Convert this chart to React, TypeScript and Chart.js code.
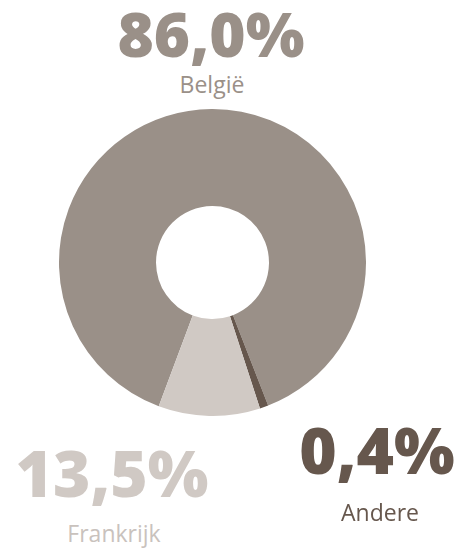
import React, { useEffect, useRef } from "react";
import { Chart, registerables } from "chart.js";

Chart.register(...registerables);

// Data (order clockwise from start angle)
const categories = ["België", "Andere", "Frankrijk"];
const shareValues = [88.4, 0.9, 10.7];
const valueLabels = ["86,0%", "0,4%", "13,5%"];
const sliceColors = ["#9a9088", "#66574d", "#d0c9c4"];

const W = 469;
const H = 554;

type LabelSpec = {
  text: string;
  cx: number;
  capTop: number;
  size: number;
  weight: number;
  color: string;
};

const labels: LabelSpec[] = [
  { text: valueLabels[0], cx: 211, capTop: 13, size: 62, weight: 800, color: sliceColors[0] },
  { text: categories[0], cx: 212, capTop: 77, size: 23, weight: 400, color: sliceColors[0] },
  { text: valueLabels[2], cx: 112, capTop: 452, size: 64, weight: 800, color: sliceColors[2] },
  { text: categories[2], cx: 114, capTop: 526, size: 23, weight: 400, color: "#c9c2bd" },
  { text: valueLabels[1], cx: 377, capTop: 429, size: 64, weight: 800, color: sliceColors[1] },
  { text: categories[1], cx: 380, capTop: 505, size: 23, weight: 400, color: sliceColors[1] },
];

export default function App() {
  const ref = useRef<HTMLCanvasElement | null>(null);

  useEffect(() => {
    document.body.style.margin = "0";
    const canvas = ref.current;
    if (!canvas) return;
    const chart = new Chart(canvas, {
      type: "doughnut",
      data: {
        labels: categories,
        datasets: [
          {
            data: shareValues,
            backgroundColor: sliceColors,
            borderWidth: 0,
            hoverOffset: 0,
          },
        ],
      },
      options: {
        responsive: false,
        maintainAspectRatio: false,
        animation: false,
        rotation: 200.5,
        cutout: "36.8%",
        layout: { padding: 0 },
        plugins: {
          legend: { display: false },
          tooltip: { enabled: false },
        },
      },
    });
    return () => chart.destroy();
  }, []);

  const R = 153.5;
  const cx = 212.5;
  const cy = 262.5;

  return (
    <div style={{ position: "relative", width: W, height: H, background: "#fff", overflow: "hidden" }}>
      <canvas
        ref={ref}
        width={R * 2}
        height={R * 2}
        style={{ position: "absolute", left: cx - R, top: cy - R, width: R * 2, height: R * 2 }}
      />
      {labels.map((l, i) => (
        <div
          key={i}
          style={{
            position: "absolute",
            left: l.cx - 150,
            width: 300,
            top: l.capTop - 0.174 * l.size,
            textAlign: "center",
            fontFamily: "'Open Sans', sans-serif",
            fontSize: l.size,
            fontWeight: l.weight,
            lineHeight: 1,
            color: l.color,
            whiteSpace: "nowrap",
          }}
        >
          {l.text}
        </div>
      ))}
    </div>
  );
}
